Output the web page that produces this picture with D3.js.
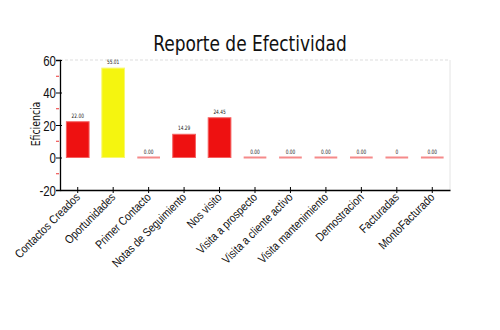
<!DOCTYPE html>
<html><head><meta charset="utf-8">
<script src="https://cdn.jsdelivr.net/npm/d3@7"></script>
<style>
body{margin:0;background:#fff;}
svg{font-family:"DejaVu Sans Condensed","Liberation Sans Narrow","Liberation Sans",sans-serif;}
</style></head><body>
<svg id="c" width="500" height="330"></svg>
<script>
const categories = ["Contactos Creados","Oportunidades","Primer Contacto","Notas de Seguimiento","Nos visito","Visita a prospecto","Visita a cliente activo","Visita mantenimiento","Demostracion","Facturadas","MontoFacturado"];
const values = [22.00, 55.01, 0, 14.29, 24.45, 0, 0, 0, 0, 0, 0];
const valueLabels = ["22.00","55.01","0.00","14.29","24.45","0.00","0.00","0.00","0.00","0","0.00"];
const barColors = ["#ee1111","#f5f50f","#ee1111","#ee1111","#ee1111","#ee1111","#ee1111","#ee1111","#ee1111","#ee1111","#ee1111"];
const yTicks = [-20,0,20,40,60];
const yMinor = [-10,10,30,50];

const svg = d3.select("#c");
const L=60,R=450,T=60,B=190;
const x = d3.scaleBand().domain(categories).range([L,R]).paddingInner(0.36).paddingOuter(0.18);
const y = d3.scaleLinear().domain([-20,60]).range([B,T]);

svg.append("text").attr("transform","translate(250,51) scale(0.86,1)").attr("text-anchor","middle")
  .attr("font-size",22).attr("fill","#111").text("Reporte de Efectividad");

// frame
svg.append("line").attr("x1",L).attr("x2",R).attr("y1",T).attr("y2",T)
  .attr("stroke","#ddd").attr("stroke-dasharray","3,2");
svg.append("line").attr("x1",R).attr("x2",R).attr("y1",T).attr("y2",B).attr("stroke","#e4e4e4");

// bars
const g = svg.append("g");
categories.forEach((c,i)=>{
  const v=values[i];
  if(v===0){
    g.append("rect").attr("x",x(c)).attr("y",y(0)-1).attr("width",x.bandwidth()).attr("height",2)
      .attr("fill","#f58a8a");
  } else {
    g.append("rect").attr("x",x(c)).attr("y",y(v)).attr("width",x.bandwidth()).attr("height",y(0)-y(v))
      .attr("fill",barColors[i]).attr("stroke",i===1?"#f8f870":"#f56060").attr("stroke-width",1);
  }
  g.append("text").attr("transform",`translate(${x(c)+x.bandwidth()/2},${y(Math.max(v,0))-4}) scale(0.8,1)`)
    .attr("text-anchor","middle").attr("font-size",6).attr("fill","#222").text(valueLabels[i]);
});

// y axis
const ya = svg.append("g").attr("transform",`translate(${L},0)`)
  .call(d3.axisLeft(y).tickValues(yTicks).tickSize(4).tickFormat(d=>String(d)));
ya.selectAll("text").attr("font-size",14).attr("fill","#111")
  .attr("x",null).attr("dy",null).attr("transform","translate(-4,5) scale(0.82,1)");
ya.select(".domain").attr("stroke","#000").attr("stroke-width",1.3);
ya.selectAll(".tick line").attr("x1",-4).attr("x2",2).attr("stroke","#000");
svg.append("g").selectAll("line").data(yMinor).join("line")
  .attr("x1",L-4).attr("x2",L-1).attr("y1",d=>y(d)).attr("y2",d=>y(d)).attr("stroke","#e33");

// x axis
const xa = svg.append("g").attr("transform",`translate(0,${B})`)
  .call(d3.axisBottom(x).tickSize(4).tickSizeOuter(0));
xa.select(".domain").attr("stroke","#000").attr("stroke-width",1.3);
xa.selectAll(".tick line").attr("y1",-3).attr("y2",3).attr("stroke","#000");
xa.selectAll("text").attr("font-size",12).attr("fill","#111")
  .attr("text-anchor","end").attr("dy",0).attr("y",0)
  .attr("transform","translate(3,8) rotate(-45) scale(0.84,1)");

svg.append("text").attr("transform","translate(40,124) rotate(-90) scale(0.8,1)").attr("text-anchor","middle")
  .attr("font-size",13).attr("fill","#111").text("Eficiencia");
</script></body></html>
